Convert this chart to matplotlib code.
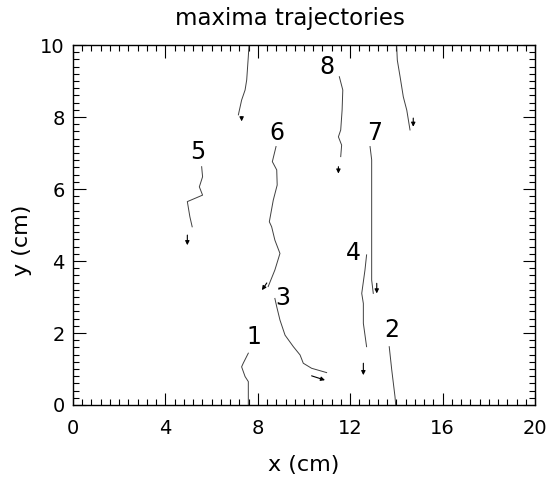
import matplotlib
matplotlib.use('Agg')

import numpy as np
import matplotlib.pyplot as plt
import matplotlib.ticker as ticker

# trajectories of the maxima (x, y in cm)
t_top_x = [7.62, 7.59, 7.52, 7.45, 7.30, 7.19, 7.16]
t_top_y = [10.0, 9.68, 9.03, 8.75, 8.47, 8.15, 8.06]

t1_x = [7.59, 7.37, 7.30, 7.45, 7.59, 7.59]
t1_y = [1.44, 1.16, 1.06, 0.79, 0.65, 0.0]

t2_x = [13.69, 13.80, 13.94, 13.97]
t2_y = [1.62, 0.97, 0.23, 0.0]

t3_x = [8.74, 8.82, 8.96, 9.18, 9.54, 9.83, 9.97, 10.33, 10.98]
t3_y = [2.96, 2.73, 2.36, 1.94, 1.62, 1.39, 1.16, 1.02, 0.90]

t4_x = [12.71, 12.64, 12.50, 12.57, 12.57, 12.71]
t4_y = [4.17, 3.75, 3.10, 2.82, 2.27, 1.62]

t5_x = [5.57, 5.61, 5.47, 5.61, 4.95, 5.06, 5.16]
t5_y = [6.62, 6.34, 6.06, 5.83, 5.65, 5.23, 4.95]

t6_x = [8.79, 8.63, 8.82, 8.84, 8.67, 8.50, 8.60, 8.74, 8.96, 8.74, 8.45]
t6_y = [7.18, 6.76, 6.53, 6.11, 5.69, 5.09, 4.95, 4.58, 4.21, 3.75, 3.29]

t7_x = [12.86, 12.93, 12.93, 13.00]
t7_y = [7.18, 6.81, 3.47, 3.10]

t8_x = [11.53, 11.68, 11.65, 11.59, 11.49, 11.63, 11.59]
t8_y = [9.12, 8.75, 8.19, 7.64, 7.45, 7.22, 6.90]

t_tr_x = [14.01, 14.04, 14.16, 14.30, 14.45, 14.59]
t_tr_y = [10.0, 9.58, 9.12, 8.56, 8.19, 7.64]

trajectories = [(t_top_x, t_top_y), (t1_x, t1_y), (t2_x, t2_y), (t3_x, t3_y),
                (t4_x, t4_y), (t5_x, t5_y), (t6_x, t6_y), (t7_x, t7_y),
                (t8_x, t8_y), (t_tr_x, t_tr_y)]

# direction arrows: start and end points
arrow_x0 = [7.30, 4.95, 8.39, 10.33, 11.49, 14.73, 13.15, 12.57]
arrow_y0 = [8.00, 4.72, 3.39, 0.81, 6.62, 7.97, 3.38, 1.16]
arrow_x1 = [7.30, 4.95, 8.18, 10.91, 11.49, 14.73, 13.15, 12.57]
arrow_y1 = [7.88, 4.44, 3.19, 0.69, 6.43, 7.73, 3.10, 0.83]

# numbered labels
label_text = ['1', '2', '3', '4', '5', '6', '7', '8']
label_x = [7.81, 13.80, 9.10, 12.13, 5.42, 8.84, 13.07, 10.98]
label_y = [1.90, 2.08, 2.96, 4.21, 7.04, 7.55, 7.55, 9.40]

plt.rcParams['font.family'] = ['DejaVu Sans']
fig = plt.figure(figsize=(5.5, 4.79), dpi=100)
ax = fig.add_axes([0.1327, 0.1545, 0.84, 0.7515])

for tx, ty in trajectories:
    ax.plot(tx, ty, color='0.25', lw=0.7)

for x0, y0, x1, y1 in zip(arrow_x0, arrow_y0, arrow_x1, arrow_y1):
    ax.annotate('', xy=(x1, y1), xytext=(x0, y0),
                arrowprops=dict(arrowstyle='-|>', color='black', lw=0.8,
                                mutation_scale=6, shrinkA=0, shrinkB=0))

for t, lx, ly in zip(label_text, label_x, label_y):
    ax.text(lx, ly, t, fontsize=17, ha='center', va='center')

ax.set_xlim(0, 20)
ax.set_ylim(0, 10)
ax.xaxis.set_major_locator(ticker.MultipleLocator(4))
ax.xaxis.set_minor_locator(ticker.MultipleLocator(0.4))
ax.yaxis.set_major_locator(ticker.MultipleLocator(2))
ax.yaxis.set_minor_locator(ticker.MultipleLocator(0.2))
ax.tick_params(which='both', direction='in', top=True, right=True,
               labelsize=14, width=0.8)
ax.tick_params(axis='x', pad=10)
ax.tick_params(axis='y', pad=6)
ax.tick_params(which='major', length=9)
ax.tick_params(which='minor', length=4.5)
for s in ax.spines.values():
    s.set_linewidth(1.0)

ax.set_xlabel('x (cm)', fontsize=16, labelpad=12)
fig.text(22 / 550, 1 - 240 / 479, 'y (cm)', fontsize=16, rotation=90,
         ha='center', va='center')
fig.text(290 / 550, 1 - 18 / 479, 'maxima trajectories', fontsize=16.5,
         ha='center', va='center')

fig.savefig('out.png', dpi=100)
